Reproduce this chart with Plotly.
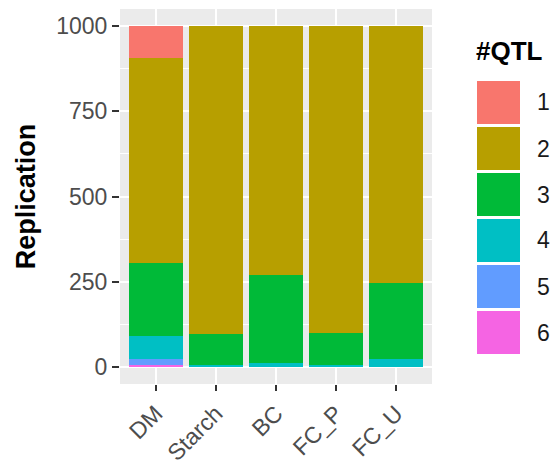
import plotly.graph_objects as go

categories = ["DM", "Starch", "BC", "FC_P", "FC_U"]
qtl_names = ["1", "2", "3", "4", "5", "6"]
qtl1 = [93, 0, 0, 0, 0]
qtl2 = [602, 903, 729, 899, 755]
qtl3 = [214, 92, 258, 94, 221]
qtl4 = [67, 5, 13, 7, 24]
qtl5 = [18, 0, 0, 0, 0]
qtl6 = [6, 0, 0, 0, 0]
series = [qtl1, qtl2, qtl3, qtl4, qtl5, qtl6]
colors = ["#F8766D", "#B79F00", "#00BA38", "#00BFC4", "#619CFF", "#F564E3"]
y_ticks = [0, 250, 500, 750, 1000]

W, H = 554, 462
L, R, T, B = 120, 122, 9, 78
pw = W - L - R
ph = H - T - B

FONT = "Liberation Sans, Arial, sans-serif"

fig = go.Figure()
for name, vals, col in reversed(list(zip(qtl_names, series, colors))):
    fig.add_trace(go.Bar(x=categories, y=vals, name=name, marker_color=col,
                         marker_line_width=0, showlegend=False, hoverinfo="skip"))

def px2x(px):
    return (px - L) / pw

def py2y(py):
    return (H - B - py) / ph

shapes = []
annotations = []
# legend title
annotations.append(dict(text="#QTL", xref="paper", yref="paper", x=px2x(474), y=py2y(51),
                        xanchor="left", yanchor="middle", showarrow=False,
                        font=dict(family=FONT, size=26, color="black", weight="bold")))
for i, (name, col) in enumerate(zip(qtl_names, colors)):
    top = 81 + 46 * i
    bot = top + 43
    shapes.append(dict(type="rect", xref="paper", yref="paper",
                       x0=px2x(477), x1=px2x(520), y0=py2y(bot), y1=py2y(top),
                       fillcolor=col, line=dict(width=0)))
    annotations.append(dict(text=name, xref="paper", yref="paper", x=px2x(535),
                            y=py2y((top + bot) / 2), xanchor="left", yanchor="middle",
                            showarrow=False, font=dict(family=FONT, size=23, color="#1A1A1A")))

fig.update_layout(
    width=W, height=H,
    margin=dict(l=L, r=R, t=T, b=B, pad=0),
    barmode="stack", bargap=0.1,
    plot_bgcolor="#EBEBEB", paper_bgcolor="white",
    font=dict(family=FONT),
    shapes=shapes, annotations=annotations,
    showlegend=False,
)
fig.update_xaxes(range=[-0.6, 4.6], showgrid=True, gridcolor="white", gridwidth=2,
                 ticks="outside", ticklen=6, tickwidth=2, tickcolor="#333333",
                 tickangle=-45, tickfont=dict(size=23, color="#4D4D4D", family=FONT),
                 zeroline=False, showline=False, automargin=False)
fig.update_yaxes(range=[-50, 1050], tickvals=y_ticks, ticktext=[str(v) for v in y_ticks],
                 showgrid=True, gridcolor="white", gridwidth=2,
                 minor=dict(tickvals=[125, 375, 625, 875], showgrid=True, gridcolor="white", gridwidth=1),
                 ticks="outside", ticklen=7, tickwidth=2, tickcolor="#333333",
                 tickfont=dict(size=23, color="#4D4D4D", family=FONT),
                 zeroline=False, showline=False, automargin=False,
                 title=dict(text="Replication", standoff=12,
                            font=dict(size=27, color="black", family=FONT, weight="bold")))

fig.write_html("out.html", config={"displayModeBar": False},
               post_script="document.body.style.margin='0px';")
